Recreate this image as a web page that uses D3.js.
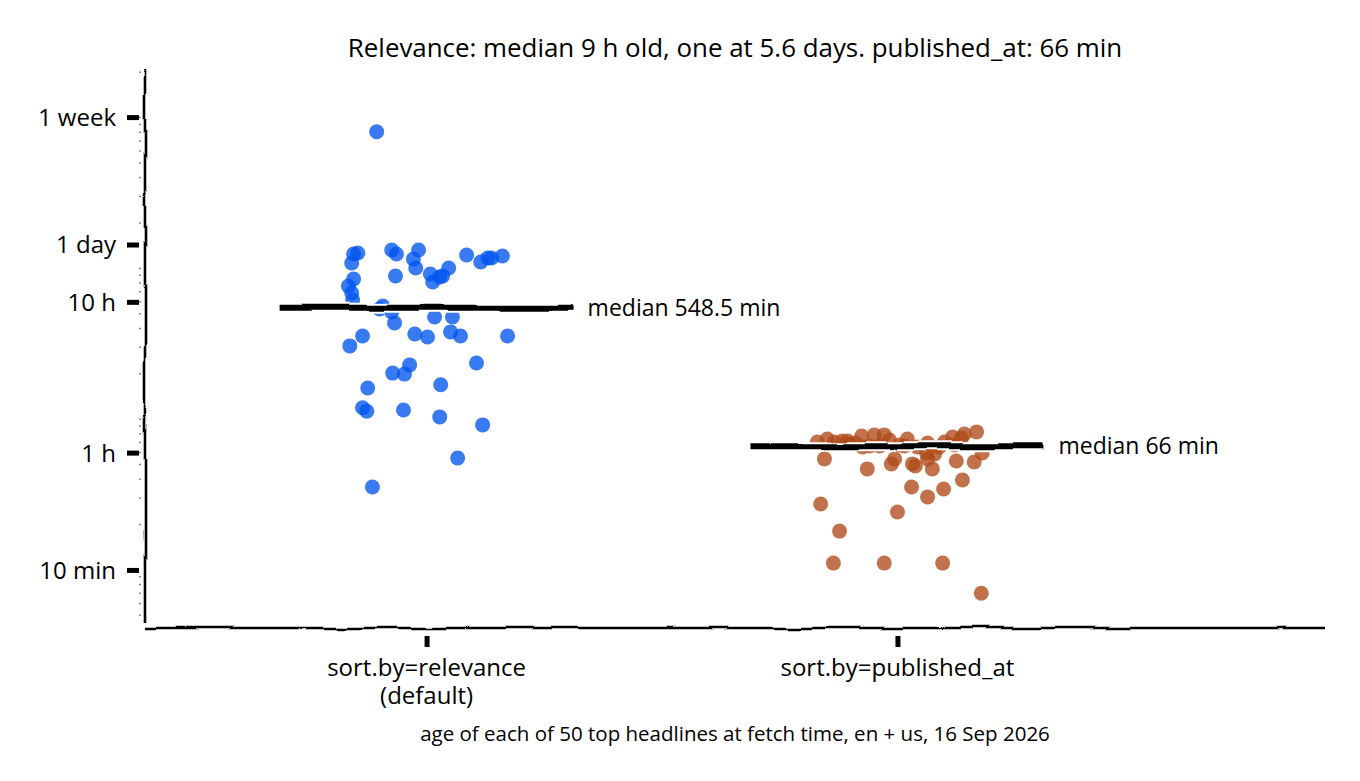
<!DOCTYPE html>
<html>
<head>
<meta charset="utf-8">
<script src="https://cdn.jsdelivr.net/npm/d3@7"></script>
<style>
  body { margin: 0; background: #fff; }
  text { font-family: "Open Sans", sans-serif; fill: #000; }
</style>
</head>
<body>
<svg id="chart" width="1360" height="781"></svg>
<script>
// categories and labels
var groupLabels = [["sort.by=relevance", "(default)"], ["sort.by=published_at"]];
var tickValues = [10, 60, 600, 1440, 10080];
var tickLabels = ["10 min", "1 h", "10 h", "1 day", "1 week"];
var titleText = "Relevance: median 9 h old, one at 5.6 days. published_at: 66 min";
var captionText = "age of each of 50 top headlines at fetch time, en + us, 16 Sep 2026";

// age in minutes of every headline, and the horizontal jitter (category units)
var relevanceAge = [1265, 1246, 1086, 1324, 1246, 1324, 1154, 1006, 891, 1227,
                    1102, 1172, 1172, 1208, 1006, 918, 812, 877, 891, 851,
                    764, 687, 617, 563, 538, 514, 476, 476, 435, 356,
                    306, 367, 351, 379, 356, 356, 236, 229, 202, 199,
                    169, 161, 119, 113, 115, 103.5, 91.6, 55.3, 35.5, 8064];
var relevanceJitter = [-0.146, -0.155, -0.159, -0.074, -0.064, -0.017, -0.028, -0.023, -0.066, 0.085,
                       0.115, 0.130, 0.138, 0.161, 0.047, 0.008, 0.013, 0.028, 0.034, -0.155,
                       -0.166, -0.159, -0.157, -0.093, -0.100, -0.074, 0.017, 0.055, -0.068, -0.136,
                       -0.163, -0.025, 0.002, 0.051, 0.072, 0.172, 0.106, -0.036, -0.072, -0.047,
                       0.030, -0.125, -0.136, -0.127, -0.049, 0.028, 0.119, 0.066, -0.115, -0.106];
var publishedAge = [70.6, 73.9, 70.6, 71.7, 54.5, 77.4, 65.4, 78.6, 78.6, 66.4,
                    72.8, 73.9, 54.5, 50.5, 46.8, 50.5, 48.9, 69.5, 59.7, 58.8,
                    54.5, 46.8, 70.6, 76.2, 67.4, 79.8, 75.0, 82.3, 52.8, 52.0,
                    59.7, 39.5, 34.4, 30.5, 35.5, 24.2, 27.4, 18.1, 11.1, 11.1,
                    11.1, 7.0, 68.5, 66.4, 67.4, 65.4, 65.4, 71.7, 69.5, 66.4];
var publishedJitter = [-0.170, -0.149, -0.134, -0.117, -0.155, -0.076, -0.074, -0.049, -0.028, -0.038,
                       -0.017, 0.021, -0.006, -0.013, -0.064, 0.032, 0.038, 0.064, 0.062, 0.079,
                       0.064, 0.074, 0.100, 0.117, 0.121, 0.142, 0.136, 0.168, 0.125, 0.163,
                       0.180, 0.138, 0.098, 0.064, 0.030, 0.000, -0.163, -0.123, -0.136, -0.028,
                       0.096, 0.178, -0.102, -0.059, 0.004, 0.042, 0.089, -0.106, -0.089, 0.015];
var medians = [548.5, 66];
var medianLabels = ["median 548.5 min", "median 66 min"];
var colors = ["#0055ee", "#b04a1a"];

(function () {
    var mLeft = 145, mRight = 1325, mTop = 70, mBottom = 628;

    var svg = d3.select("#chart");

    // hand-drawn wobble
    var defs = svg.append("defs");
    var f = defs.append("filter").attr("id", "wobble")
        .attr("filterUnits", "userSpaceOnUse")
        .attr("x", 0).attr("y", 0).attr("width", 1360).attr("height", 781);
    f.append("feTurbulence").attr("type", "fractalNoise")
        .attr("baseFrequency", "0.022").attr("numOctaves", 1).attr("seed", 5).attr("result", "n");
    f.append("feDisplacementMap").attr("in", "SourceGraphic").attr("in2", "n")
        .attr("scale", 7).attr("xChannelSelector", "R").attr("yChannelSelector", "G");

    var x = d3.scaleLinear().domain([-0.598, 1.908]).range([mLeft, mRight]);
    var y = d3.scaleLog().domain([4.12, 20690]).range([mBottom, mTop]);

    // minor ticks (log)
    var minor = [];
    [1, 10, 100, 1000, 10000].forEach(function (dec) {
        for (var k = 1; k <= 9; k++) {
            var v = k * dec;
            if (v >= 4.2 && v <= 20000 && v !== 10) minor.push(v);
        }
    });
    svg.append("g").selectAll("line").data(minor)
        .enter().append("line")
        .attr("x1", 139).attr("x2", 141)
        .attr("y1", function (d) { return y(d); }).attr("y2", function (d) { return y(d); })
        .attr("stroke", "#888").attr("stroke-width", 1.5);

    // y axis
    var yAxis = d3.axisLeft(y).tickValues(tickValues)
        .tickFormat(function (d, i) { return tickLabels[i]; })
        .tickSize(12).tickPadding(11);
    var gy = svg.append("g").attr("transform", "translate(139,0)").call(yAxis);
    gy.select(".domain").remove();
    gy.selectAll(".tick line").attr("stroke", "#000").attr("stroke-width", 5);
    gy.selectAll(".tick text").style("font-size", "24px").style("font-family", "Open Sans").attr("dy", "0.35em");

    // x axis
    var xAxis = d3.axisBottom(x).tickValues([0, 1]).tickFormat("").tickSize(11);
    var gx = svg.append("g").attr("transform", "translate(0,636)").call(xAxis);
    gx.select(".domain").remove();
    gx.selectAll(".tick line").attr("stroke", "#000").attr("stroke-width", 5);

    groupLabels.forEach(function (lines, i) {
        lines.forEach(function (l, j) {
            svg.append("text").attr("x", x(i)).attr("y", 676 + j * 28)
                .attr("text-anchor", "middle").style("font-size", "24px").text(l);
        });
    });

    // spines
    var spines = svg.append("g").attr("filter", "url(#wobble)");
    spines.append("line").attr("x1", mLeft).attr("x2", mLeft).attr("y1", mTop).attr("y2", mBottom - 6)
        .attr("stroke", "#000").attr("stroke-width", 2.6);
    spines.append("line").attr("x1", mLeft).attr("x2", mRight).attr("y1", mBottom).attr("y2", mBottom)
        .attr("stroke", "#000").attr("stroke-width", 2.6);

    // points
    var series = [
        { age: relevanceAge, jit: relevanceJitter, c: 0 },
        { age: publishedAge, jit: publishedJitter, c: 1 }
    ];
    series.forEach(function (s) {
        svg.append("g").selectAll("circle").data(s.age).enter().append("circle")
            .attr("cx", function (d, i) { return x(s.c + s.jit[i]); })
            .attr("cy", function (d) { return y(d); })
            .attr("r", 7.5)
            .attr("fill", colors[s.c]).attr("fill-opacity", 0.78);
    });

    // median lines
    var med = svg.append("g").attr("filter", "url(#wobble)");
    medians.forEach(function (m, i) {
        med.append("line").attr("x1", x(i - 0.31)).attr("x2", x(i + 0.31))
            .attr("y1", y(m)).attr("y2", y(m))
            .attr("stroke", "#fff").attr("stroke-width", 10);
        med.append("line").attr("x1", x(i - 0.31)).attr("x2", x(i + 0.31))
            .attr("y1", y(m)).attr("y2", y(m))
            .attr("stroke", "#000").attr("stroke-width", 6);
    });
    medians.forEach(function (m, i) {
        svg.append("text").attr("x", x(i + 0.342)).attr("y", y(m))
            .attr("dy", "0.35em").style("font-size", "23px").text(medianLabels[i]);
    });

    // title and caption
    svg.append("text").attr("x", (mLeft + mRight) / 2).attr("y", 57)
        .attr("text-anchor", "middle").style("font-size", "25.9px").text(titleText);
    svg.append("text").attr("x", (mLeft + mRight) / 2).attr("y", 741)
        .attr("text-anchor", "middle").style("font-size", "20.5px").text(captionText);
})();
</script>
</body>
</html>
